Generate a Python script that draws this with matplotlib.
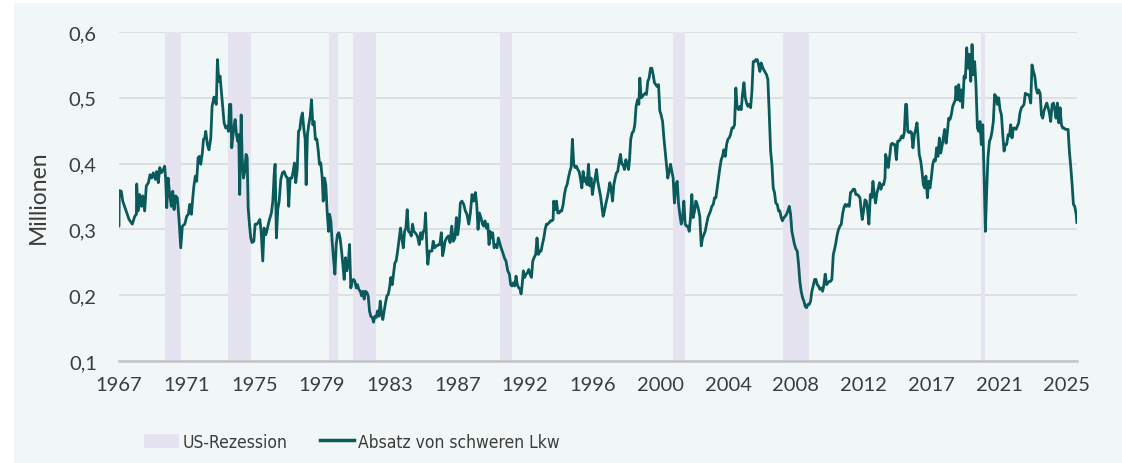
import matplotlib
matplotlib.use("Agg")
import matplotlib.pyplot as plt
from matplotlib.patches import Patch, Rectangle
from matplotlib.lines import Line2D
from matplotlib import font_manager

# Monthly heavy truck sales (millions)
years = [
    1967.00, 1967.02, 1967.14, 1967.23, 1967.41, 1967.62, 1967.82, 1967.97, 1968.07, 1968.09,
    1968.17, 1968.27, 1968.38, 1968.46, 1968.58, 1968.68, 1968.81, 1968.91, 1969.01, 1969.11,
    1969.24, 1969.32, 1969.42, 1969.51, 1969.61, 1969.73, 1969.81, 1969.87, 1969.94, 1970.02,
    1970.12, 1970.22, 1970.31, 1970.39, 1970.49, 1970.59, 1970.70, 1970.80, 1970.90, 1971.05,
    1971.17, 1971.27, 1971.35, 1971.46, 1971.54, 1971.62, 1971.70, 1971.78, 1971.87, 1971.95,
    1972.03, 1972.13, 1972.20, 1972.28, 1972.34, 1972.44, 1972.54, 1972.65, 1972.73, 1972.85,
    1972.91, 1972.99, 1973.06, 1973.14, 1973.22, 1973.30, 1973.39, 1973.47, 1973.57, 1973.67,
    1973.74, 1973.80, 1973.88, 1973.94, 1974.02, 1974.08, 1974.15, 1974.23, 1974.31, 1974.37,
    1974.43, 1974.52, 1974.58, 1974.66, 1974.74, 1974.82, 1974.89, 1974.95, 1975.03, 1975.11,
    1975.19, 1975.30, 1975.38, 1975.48, 1975.56, 1975.67, 1975.75, 1975.85, 1975.93, 1976.04,
    1976.14, 1976.24, 1976.38, 1976.47, 1976.55, 1976.61, 1976.69, 1976.77, 1976.86, 1976.96,
    1977.06, 1977.16, 1977.27, 1977.37, 1977.45, 1977.53, 1977.64, 1977.72, 1977.80, 1977.88,
    1977.97, 1978.05, 1978.13, 1978.21, 1978.29, 1978.38, 1978.46, 1978.52, 1978.60, 1978.68,
    1978.77, 1978.85, 1978.93, 1979.01, 1979.09, 1979.18, 1979.26, 1979.34, 1979.42, 1979.51,
    1979.57, 1979.65, 1979.73, 1979.81, 1979.90, 1979.96, 1980.04, 1980.12, 1980.20, 1980.29,
    1980.37, 1980.45, 1980.53, 1980.61, 1980.70, 1980.78, 1980.86, 1980.94, 1981.02, 1981.11,
    1981.19, 1981.27, 1981.35, 1981.44, 1981.52, 1981.60, 1981.68, 1981.76, 1981.85, 1981.93,
    1982.01, 1982.09, 1982.17, 1982.26, 1982.34, 1982.42, 1982.50, 1982.59, 1982.67, 1982.75,
    1982.83, 1982.91, 1983.00, 1983.08, 1983.16, 1983.24, 1983.32, 1983.41, 1983.49, 1983.57,
    1983.65, 1983.73, 1983.82, 1983.90, 1983.98, 1984.06, 1984.15, 1984.25, 1984.33, 1984.41,
    1984.50, 1984.58, 1984.66, 1984.74, 1984.82, 1984.91, 1984.99, 1985.07, 1985.15, 1985.23,
    1985.32, 1985.40, 1985.48, 1985.56, 1985.65, 1985.73, 1985.81, 1985.87, 1985.95, 1986.01,
    1986.10, 1986.18, 1986.26, 1986.34, 1986.43, 1986.51, 1986.59, 1986.67, 1986.75, 1986.84,
    1986.92, 1986.98,
    1987.07, 1987.17, 1987.27, 1987.38, 1987.48, 1987.58, 1987.68, 1987.77, 1987.85, 1987.95,
    1988.01, 1988.11, 1988.22, 1988.32, 1988.42, 1988.53, 1988.63, 1988.73, 1988.83, 1988.94,
    1989.02, 1989.10, 1989.18, 1989.28, 1989.37, 1989.45, 1989.53, 1989.61, 1989.70, 1989.78,
    1989.84, 1989.92, 1990.00, 1990.09, 1990.17, 1990.27, 1990.35, 1990.43, 1990.52, 1990.62,
    1990.72, 1990.82, 1990.93, 1991.03, 1991.11, 1991.19, 1991.28, 1991.36, 1991.44, 1991.52,
    1991.61, 1991.69, 1991.75, 1991.81, 1991.89, 1991.97, 1992.06, 1992.14, 1992.22, 1992.30,
    1992.39, 1992.47, 1992.55, 1992.65, 1992.73, 1992.82, 1992.90, 1992.98, 1993.06, 1993.15,
    1993.23, 1993.31, 1993.39, 1993.47, 1993.56, 1993.64, 1993.72, 1993.76, 1993.84, 1993.93,
    1994.01, 1994.09, 1994.17, 1994.25, 1994.34, 1994.42, 1994.50, 1994.58, 1994.66, 1994.75,
    1994.83, 1994.91, 1994.99, 1995.08, 1995.16, 1995.24, 1995.32, 1995.40, 1995.49, 1995.57,
    1995.65, 1995.73, 1995.81, 1995.90, 1995.98, 1996.06, 1996.14, 1996.23, 1996.31, 1996.39,
    1996.47, 1996.55, 1996.64, 1996.72, 1996.80, 1996.88, 1996.96, 1997.05, 1997.13, 1997.21,
    1997.29, 1997.38, 1997.46, 1997.54, 1997.62, 1997.70, 1997.79, 1997.87, 1997.95, 1998.03,
    1998.11, 1998.20, 1998.28, 1998.36, 1998.42, 1998.50, 1998.59, 1998.67, 1998.75, 1998.83,
    1998.92, 1999.00, 1999.06, 1999.14, 1999.22, 1999.31, 1999.39, 1999.47, 1999.55, 1999.63,
    1999.72, 1999.80, 1999.88, 1999.96, 2000.04, 2000.13, 2000.21, 2000.29, 2000.37, 2000.46,
    2000.54, 2000.62, 2000.70, 2000.78, 2000.87, 2000.95, 2001.03, 2001.11, 2001.19, 2001.28,
    2001.36, 2001.44, 2001.52, 2001.61, 2001.69, 2001.77, 2001.85, 2001.93, 2002.02, 2002.10,
    2002.18, 2002.26, 2002.34, 2002.43, 2002.51, 2002.59, 2002.67, 2002.75, 2002.84, 2002.92,
    2003.00, 2003.08, 2003.17, 2003.25, 2003.33, 2003.41, 2003.49, 2003.58, 2003.66, 2003.74,
    2003.82, 2003.90, 2003.99, 2004.07, 2004.15, 2004.23, 2004.32, 2004.40, 2004.48, 2004.56,
    2004.64, 2004.73, 2004.81, 2004.89, 2004.97, 2005.05, 2005.14, 2005.22, 2005.30, 2005.38,
    2005.47, 2005.55, 2005.63, 2005.71, 2005.79, 2005.88, 2005.96, 2006.04, 2006.12, 2006.20,
    2006.29, 2006.37, 2006.45, 2006.53, 2006.64,
    2006.86, 2006.94, 2007.02, 2007.11, 2007.19, 2007.27, 2007.35, 2007.43, 2007.52, 2007.60,
    2007.68, 2007.76, 2007.84, 2007.93, 2008.01, 2008.09, 2008.17, 2008.26, 2008.34, 2008.42,
    2008.50, 2008.58, 2008.67, 2008.75, 2008.83, 2008.91, 2008.99, 2009.08, 2009.16, 2009.24,
    2009.32, 2009.41, 2009.49, 2009.57, 2009.65, 2009.73, 2009.82, 2009.90, 2009.98, 2010.06,
    2010.14, 2010.23, 2010.31, 2010.39, 2010.47, 2010.56, 2010.64, 2010.72, 2010.80, 2010.88,
    2010.97, 2011.05, 2011.13, 2011.21, 2011.29, 2011.38, 2011.46, 2011.54, 2011.62, 2011.71,
    2011.79, 2011.87, 2011.95, 2012.03, 2012.12, 2012.20, 2012.28, 2012.36, 2012.44, 2012.53,
    2012.61, 2012.69, 2012.75, 2012.83, 2012.92, 2013.00, 2013.08, 2013.16, 2013.25, 2013.33,
    2013.41, 2013.49, 2013.57, 2013.66, 2013.74, 2013.82, 2013.90, 2013.98, 2014.07, 2014.15,
    2014.19, 2014.27, 2014.35, 2014.44, 2014.52, 2014.60, 2014.68, 2014.76, 2014.85, 2014.93,
    2015.01, 2015.09, 2015.18, 2015.26, 2015.34, 2015.42, 2015.48, 2015.55, 2015.63, 2015.71,
    2015.79, 2015.87, 2015.96, 2016.04, 2016.12, 2016.18, 2016.26, 2016.35, 2016.43, 2016.51,
    2016.59, 2016.67, 2016.76, 2016.84, 2016.92, 2017.00, 2017.09, 2017.17, 2017.25, 2017.33,
    2017.41, 2017.50, 2017.58, 2017.66, 2017.74, 2017.82, 2017.91, 2017.99, 2018.07, 2018.15,
    2018.23, 2018.32, 2018.40, 2018.48, 2018.52, 2018.60, 2018.69, 2018.77, 2018.85, 2018.93,
    2019.02, 2019.10, 2019.18, 2019.26, 2019.34, 2019.43, 2019.51, 2019.59, 2019.67, 2019.75,
    2019.84, 2019.92, 2020.00, 2020.08, 2020.17, 2020.25, 2020.33, 2020.41, 2020.49, 2020.58,
    2020.66, 2020.74, 2020.82, 2020.90, 2020.99, 2021.07, 2021.15, 2021.23, 2021.32, 2021.40,
    2021.48, 2021.56, 2021.64, 2021.73, 2021.81, 2021.89, 2021.97, 2022.05, 2022.14, 2022.22,
    2022.30, 2022.38, 2022.46, 2022.55, 2022.63, 2022.71, 2022.79, 2022.88, 2022.96, 2023.04,
    2023.12, 2023.20, 2023.29, 2023.37, 2023.45, 2023.53, 2023.61, 2023.70, 2023.78, 2023.86,
    2023.94, 2024.03, 2024.11, 2024.19, 2024.27, 2024.35, 2024.44, 2024.52, 2024.60, 2024.68,
    2024.76, 2024.85, 2024.93, 2025.01, 2025.09, 2025.18, 2025.26, 2025.34, 2025.42, 2025.50,
    2025.59, 2025.67, 2025.75, 2025.83, 2025.92, 2025.96,
]
sales = [
    0.305, 0.359, 0.358, 0.343, 0.330, 0.315, 0.308, 0.320, 0.323, 0.369,
    0.328, 0.353, 0.335, 0.351, 0.328, 0.366, 0.371, 0.383, 0.378, 0.386,
    0.376, 0.388, 0.371, 0.394, 0.386, 0.391, 0.396, 0.378, 0.333, 0.378,
    0.353, 0.335, 0.358, 0.330, 0.351, 0.348, 0.313, 0.272, 0.305, 0.308,
    0.320, 0.323, 0.338, 0.323, 0.348, 0.368, 0.381, 0.373, 0.409, 0.411,
    0.399, 0.416, 0.437, 0.439, 0.449, 0.429, 0.421, 0.439, 0.487, 0.501,
    0.495, 0.490, 0.558, 0.525, 0.533, 0.510, 0.485, 0.462, 0.454, 0.457,
    0.449, 0.490, 0.490, 0.424, 0.444, 0.457, 0.467, 0.444, 0.434, 0.444,
    0.353, 0.474, 0.409, 0.378, 0.388, 0.414, 0.409, 0.333, 0.308, 0.287,
    0.280, 0.282, 0.308, 0.308, 0.310, 0.315, 0.297, 0.252, 0.302, 0.292,
    0.302, 0.313, 0.325, 0.343, 0.383, 0.399, 0.287, 0.330, 0.343, 0.376,
    0.386, 0.388, 0.381, 0.378, 0.335, 0.378, 0.378, 0.388, 0.401, 0.371,
    0.391, 0.449, 0.452, 0.469, 0.477, 0.452, 0.437, 0.368, 0.444, 0.459,
    0.472, 0.497, 0.459, 0.464, 0.437, 0.437, 0.421, 0.399, 0.401, 0.378,
    0.343, 0.378, 0.368, 0.328, 0.297, 0.323, 0.313, 0.282, 0.257, 0.232,
    0.277, 0.292, 0.295, 0.287, 0.267, 0.247, 0.224, 0.257, 0.237, 0.247,
    0.277, 0.211, 0.221, 0.224, 0.221, 0.211, 0.216, 0.209, 0.206, 0.199,
    0.206, 0.194, 0.206, 0.204, 0.199, 0.176, 0.168, 0.166, 0.159, 0.168,
    0.166, 0.176, 0.168, 0.191, 0.171, 0.163, 0.176, 0.189, 0.199, 0.201,
    0.211, 0.227, 0.216, 0.232, 0.249, 0.252, 0.267, 0.287, 0.302, 0.287,
    0.272, 0.297, 0.302, 0.330, 0.297, 0.295, 0.290, 0.308, 0.297, 0.295,
    0.292, 0.287, 0.277, 0.295, 0.285, 0.297, 0.300, 0.325, 0.272, 0.247,
    0.267, 0.267, 0.267, 0.282, 0.272, 0.275, 0.275, 0.277, 0.277, 0.295,
    0.260, 0.267,
    0.282, 0.287, 0.290, 0.280, 0.305, 0.282, 0.287, 0.318, 0.292, 0.313,
    0.340, 0.343, 0.338, 0.328, 0.323, 0.308, 0.325, 0.353, 0.343, 0.356,
    0.338, 0.300, 0.325, 0.318, 0.308, 0.305, 0.313, 0.302, 0.308, 0.277,
    0.297, 0.287, 0.295, 0.272, 0.277, 0.272, 0.287, 0.280, 0.272, 0.265,
    0.257, 0.252, 0.237, 0.232, 0.216, 0.214, 0.219, 0.214, 0.229, 0.216,
    0.211, 0.209, 0.202, 0.214, 0.237, 0.227, 0.232, 0.234, 0.239, 0.232,
    0.227, 0.252, 0.257, 0.262, 0.287, 0.262, 0.267, 0.267, 0.277, 0.287,
    0.300, 0.308, 0.308, 0.310, 0.313, 0.313, 0.315, 0.343, 0.330, 0.343,
    0.325, 0.325, 0.328, 0.328, 0.338, 0.353, 0.363, 0.368, 0.378, 0.388,
    0.394, 0.437, 0.399, 0.394, 0.396, 0.391, 0.388, 0.378, 0.363, 0.388,
    0.373, 0.378, 0.368, 0.399, 0.366, 0.378, 0.353, 0.368, 0.378, 0.391,
    0.373, 0.363, 0.351, 0.335, 0.320, 0.328, 0.338, 0.348, 0.358, 0.371,
    0.363, 0.343, 0.368, 0.378, 0.386, 0.388, 0.404, 0.414, 0.399, 0.399,
    0.391, 0.406, 0.399, 0.391, 0.404, 0.437, 0.447, 0.449, 0.459, 0.487,
    0.497, 0.490, 0.530, 0.500, 0.502, 0.505, 0.507, 0.505, 0.525, 0.530,
    0.545, 0.545, 0.535, 0.523, 0.520, 0.517, 0.520, 0.480, 0.474, 0.464,
    0.439, 0.419, 0.399, 0.378, 0.388, 0.399, 0.388, 0.378, 0.340, 0.368,
    0.373, 0.340, 0.323, 0.308, 0.318, 0.343, 0.308, 0.305, 0.305, 0.297,
    0.318, 0.353, 0.318, 0.328, 0.343, 0.338, 0.330, 0.320, 0.275, 0.287,
    0.292, 0.297, 0.308, 0.318, 0.323, 0.328, 0.335, 0.338, 0.348, 0.348,
    0.363, 0.378, 0.394, 0.406, 0.411, 0.421, 0.411, 0.429, 0.437, 0.439,
    0.444, 0.454, 0.454, 0.459, 0.515, 0.485, 0.482, 0.487, 0.482, 0.505,
    0.523, 0.500, 0.492, 0.487, 0.490, 0.485, 0.510, 0.555, 0.555, 0.558,
    0.558, 0.550, 0.540, 0.553, 0.545,
    0.535, 0.528, 0.480, 0.419, 0.399, 0.363, 0.356, 0.340, 0.338, 0.328,
    0.328, 0.318, 0.313, 0.318, 0.320, 0.323, 0.328, 0.335, 0.323, 0.297,
    0.287, 0.277, 0.270, 0.267, 0.247, 0.221, 0.206, 0.196, 0.191, 0.183,
    0.181, 0.186, 0.186, 0.191, 0.206, 0.214, 0.224, 0.224, 0.216, 0.214,
    0.209, 0.211, 0.206, 0.216, 0.232, 0.216, 0.219, 0.221, 0.221, 0.224,
    0.262, 0.270, 0.280, 0.292, 0.300, 0.305, 0.308, 0.323, 0.333, 0.338,
    0.335, 0.338, 0.335, 0.356, 0.358, 0.361, 0.361, 0.353, 0.353, 0.351,
    0.348, 0.328, 0.315, 0.328, 0.345, 0.343, 0.330, 0.308, 0.353, 0.348,
    0.373, 0.353, 0.340, 0.356, 0.363, 0.371, 0.361, 0.368, 0.368, 0.378,
    0.414, 0.406, 0.394, 0.411, 0.429, 0.431, 0.429, 0.429, 0.406, 0.434,
    0.434, 0.437, 0.442, 0.439, 0.447, 0.490, 0.490, 0.449, 0.447, 0.449,
    0.447, 0.424, 0.444, 0.452, 0.462, 0.444, 0.414, 0.404, 0.388, 0.368,
    0.363, 0.381, 0.348, 0.373, 0.363, 0.378, 0.399, 0.406, 0.404, 0.424,
    0.411, 0.439, 0.416, 0.426, 0.439, 0.452, 0.431, 0.447, 0.469, 0.467,
    0.474, 0.487, 0.492, 0.497, 0.517, 0.497, 0.520, 0.495, 0.512, 0.485,
    0.533, 0.530, 0.576, 0.545, 0.566, 0.525, 0.581, 0.535, 0.555, 0.520,
    0.454, 0.449, 0.464, 0.429, 0.459, 0.383, 0.297, 0.358, 0.409, 0.434,
    0.439, 0.449, 0.464, 0.505, 0.502, 0.490, 0.500, 0.482, 0.474, 0.444,
    0.419, 0.429, 0.429, 0.444, 0.442, 0.459, 0.439, 0.454, 0.454, 0.452,
    0.457, 0.462, 0.477, 0.485, 0.487, 0.490, 0.507, 0.505, 0.505, 0.502,
    0.492, 0.550, 0.540, 0.533, 0.515, 0.507, 0.512, 0.507, 0.474, 0.469,
    0.480, 0.487, 0.492, 0.485, 0.477, 0.464, 0.490, 0.492, 0.482, 0.469,
    0.492, 0.462, 0.485, 0.459, 0.454, 0.454, 0.452, 0.452, 0.452, 0.419,
    0.394, 0.368, 0.338, 0.335, 0.323, 0.310,
]

# US recessions (start, end) as decimal years
rec_start = [1969.81, 1973.74, 1979.90, 1981.41, 1990.43, 2001.11, 2007.87, 2020.08]
rec_end = [1970.80, 1975.13, 1980.47, 1982.81, 1991.17, 2001.85, 2009.45, 2020.29]

# x tick labels: every 50 months starting Jan 1967
tick_labels = ["1967", "1971", "1975", "1979", "1983", "1987", "1992", "1996",
               "2000", "2004", "2008", "2012", "2017", "2021", "2025"]
y_ticks = [0.1, 0.2, 0.3, 0.4, 0.5, 0.6]

LINE_COLOR = "#0a5a5c"
REC_COLOR = "#e5e3f0"
BG = "#f1f7f7"
TXT = "#3c3c3c"

fonts = font_manager.fontManager.ttflist
available = {f.name for f in fonts}
FONT = "Lato" if "Lato" in available else "DejaVu Sans"
plt.rcParams["font.family"] = [FONT, "DejaVu Sans"]

# narrow face for the legend if one is installed
leg_prop = font_manager.FontProperties(family=FONT, size=12)
for key in ["liberationsansnarrow-regular", "dejavusanscondensed.ttf"]:
    hits = [f.fname for f in fonts if key in f.fname.lower().replace("_", "")]
    if hits:
        leg_prop = font_manager.FontProperties(fname=hits[0], size=12.5)
        break

W, H = 1122, 464
fig = plt.figure(figsize=(W / 100, H / 100), dpi=100, facecolor="white")
fig.patches.append(Rectangle((14 / W, 0), 1 - 14 / W, 1 - 4 / H,
                             transform=fig.transFigure, facecolor=BG,
                             edgecolor="none", zorder=-5))

ax = fig.add_axes([119 / W, 1 - 362 / H, (1077 - 119) / W, (362 - 33) / H])
ax.set_facecolor("none")

for s, e in zip(rec_start, rec_end):
    ax.axvspan(s, e, color=REC_COLOR, lw=0, zorder=1)

ax.plot(years, sales, color=LINE_COLOR, lw=2.0, zorder=3,
        solid_joinstyle="round", solid_capstyle="round")

ax.set_xlim(1967.0, 2025.97)
ax.set_ylim(0.1, 0.6)
ax.set_xticks([1967 + k * 50 / 12 for k in range(len(tick_labels))])
ax.set_xticklabels(tick_labels)
ax.set_yticks(y_ticks)
ax.set_yticklabels([f"{v:.1f}".replace(".", ",") for v in y_ticks])
ax.tick_params(axis="both", length=0, labelsize=14.5, colors=TXT)
ax.tick_params(axis="x", pad=11)
ax.tick_params(axis="y", pad=16)

ax.grid(axis="y", color="#dcdde2", lw=1.3, zorder=0.5)
ax.set_axisbelow(True)
for sp in ["top", "right", "left"]:
    ax.spines[sp].set_visible(False)
ax.spines["bottom"].set_color("#c3c3cb")
ax.spines["bottom"].set_linewidth(1.8)
ax.spines["bottom"].set_zorder(2)

fig.text(38 / W, 1 - 197 / H, "Millionen", rotation=90, ha="center", va="center",
         fontsize=16.5, color=TXT)

handles = [Patch(facecolor=REC_COLOR, edgecolor="none"),
           Line2D([0], [0], color=LINE_COLOR, lw=2.5)]
fig.legend(handles, ["US-Rezession", "Absatz von schweren Lkw"], loc="center",
           bbox_to_anchor=(352 / W, 1 - 443 / H), ncol=2, frameon=False,
           handlelength=2.0, handleheight=0.9, handletextpad=0.2,
           columnspacing=1.85, prop=leg_prop, labelcolor=TXT)

fig.savefig("out.png", dpi=100, facecolor="white")
